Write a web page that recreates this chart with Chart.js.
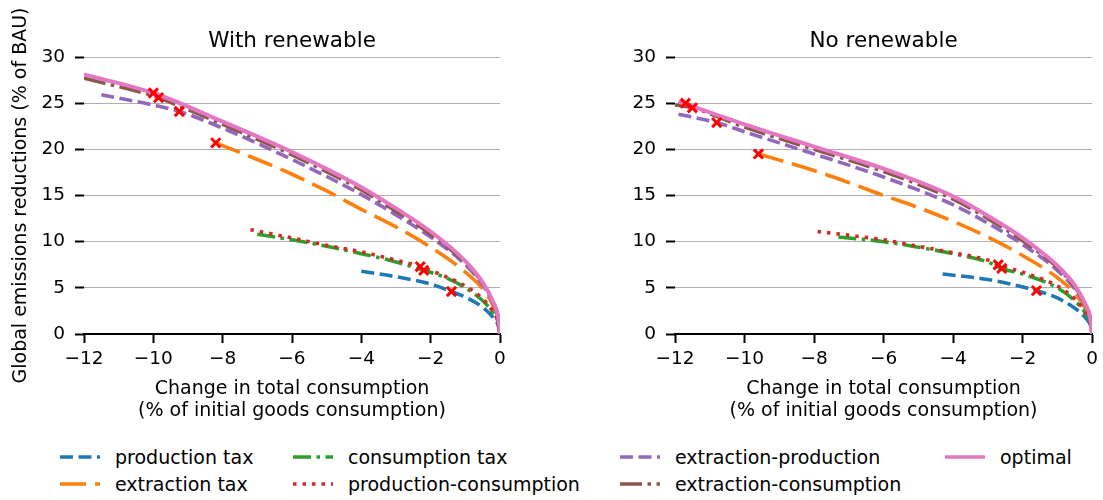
<!DOCTYPE html>
<html>
<head>
<meta charset="utf-8">
<script src="https://cdn.jsdelivr.net/npm/chart.js@4.4.1/dist/chart.umd.min.js"></script>
<style>
  body { margin: 0; background: #fff; font-family: "DejaVu Sans", sans-serif; }
  #wrap { position: relative; width: 1103px; height: 500px; }
  .panel { position: absolute; top: 0; height: 430px; }
  #legend { position: absolute; left: 0; top: 440px; width: 1103px; height: 60px; font-size: 19px; color: #000; }
  .item { position: absolute; height: 26px; line-height: 26px; white-space: nowrap; }
  .item svg { position: absolute; left: 0; top: 4px; }
  .item span { position: absolute; left: 55px; top: 0; }
</style>
</head>
<body>
<div id="wrap">
  <div class="panel" style="left:0; width:520px;"><canvas id="leftChart"></canvas></div>
  <div class="panel" style="left:560px; width:543px;"><canvas id="rightChart"></canvas></div>
  <div id="legend"></div>
</div>
<script>
// Series names (legend order) and styles
const seriesNames = ['production tax', 'extraction tax', 'consumption tax', 'production-consumption',
                     'extraction-production', 'extraction-consumption', 'optimal'];
const seriesColors = ['#1f77b4', '#ff7f0e', '#2ca02c', '#d62728', '#9467bd', '#8c564b', '#e377c2'];
const seriesDashes = [[13, 5.5], [26, 9], [18, 5.5, 3.5, 5.5], [3.5, 6], [13, 5.5], [22, 5.5, 3.5, 5.5], []];

// Axis ticks
const xTicks = [-12, -10, -8, -6, -4, -2, 0];
const yTicks = [0, 5, 10, 15, 20, 25, 30];

// ---- With renewable (left) ----
const lProdTaxX = [-4.0, -3.0, -2.0, -1.4, -1.0, -0.5, -0.2, -0.05, 0];
const lProdTaxY = [6.8, 6.2, 5.4, 4.6, 4.0, 2.9, 1.8, 0.9, 0];
const lExtTaxX = [-8.2, -7, -6, -5, -4, -3, -2, -1, -0.5, -0.2, -0.05, 0];
const lExtTaxY = [20.7, 18.9, 17.3, 15.5, 13.5, 11.6, 9.4, 6.7, 4.9, 3.1, 1.6, 0];
const lConsTaxX = [-7.0, -6, -5, -4, -3, -2.2, -1.5, -1, -0.5, -0.2, -0.05, 0];
const lConsTaxY = [10.8, 10.2, 9.5, 8.7, 7.8, 6.9, 6.0, 5.0, 3.6, 2.3, 1.2, 0];
const lProdConsX = [-7.2, -6, -5, -4, -3, -2.3, -1.5, -1, -0.5, -0.2, -0.05, 0];
const lProdConsY = [11.3, 10.4, 9.6, 8.9, 8.0, 7.3, 6.1, 5.2, 3.8, 2.4, 1.2, 0];
const lExtProdX = [-11.5, -10, -9.25, -8, -6, -4, -3, -2, -1, -0.5, -0.2, -0.05, 0];
const lExtProdY = [25.9, 24.8, 24.1, 22.3, 18.9, 15.1, 12.9, 10.5, 7.5, 5.3, 3.3, 1.7, 0];
const lExtConsX = [-12, -10, -9.85, -8, -6, -4, -3, -2, -1, -0.5, -0.2, -0.05, 0];
const lExtConsY = [27.7, 25.8, 25.6, 22.7, 19.4, 15.6, 13.3, 10.8, 7.7, 5.5, 3.4, 1.7, 0];
const lOptX = [-12, -10, -8, -6, -4, -3, -2, -1, -0.5, -0.2, -0.05, 0];
const lOptY = [28.1, 26.1, 23.0, 19.7, 15.9, 13.6, 11.1, 7.9, 5.6, 3.5, 1.8, 0];
const lMarkX = [-10.0, -9.85, -9.25, -8.2, -2.3, -2.2, -1.4];
const lMarkY = [26.1, 25.6, 24.1, 20.7, 7.3, 6.9, 4.6];

// ---- No renewable (right) ----
const rProdTaxX = [-4.3, -3.0, -2.0, -1.6, -1.0, -0.5, -0.2, -0.05, 0];
const rProdTaxY = [6.5, 5.9, 5.1, 4.7, 3.9, 2.8, 1.8, 0.9, 0];
const rExtTaxX = [-9.6, -8, -7, -6, -5, -4, -3, -2, -1, -0.5, -0.2, -0.05, 0];
const rExtTaxY = [19.5, 17.7, 16.4, 15.0, 13.7, 12.2, 10.5, 8.5, 6.1, 4.4, 2.8, 1.4, 0];
const rConsTaxX = [-7.3, -6, -5, -4, -3, -2.6, -2, -1, -0.5, -0.2, -0.05, 0];
const rConsTaxY = [10.5, 10.0, 9.4, 8.7, 7.8, 7.1, 6.5, 5.0, 3.6, 2.3, 1.2, 0];
const rProdConsX = [-7.9, -7, -6, -5, -4, -3, -2.7, -2, -1, -0.5, -0.2, -0.05, 0];
const rProdConsY = [11.1, 10.7, 10.2, 9.5, 8.8, 8.0, 7.5, 6.7, 5.2, 3.8, 2.4, 1.2, 0];
const rExtProdX = [-11.9, -10.8, -10, -8, -6, -4, -3, -2, -1, -0.5, -0.2, -0.05, 0];
const rExtProdY = [23.8, 22.9, 21.9, 19.5, 17.0, 14.0, 12.0, 9.7, 6.9, 4.9, 3.1, 1.6, 0];
const rExtConsX = [-12, -11.5, -10, -8, -6, -4, -3, -2, -1, -0.5, -0.2, -0.05, 0];
const rExtConsY = [24.8, 24.5, 22.4, 20.0, 17.6, 14.6, 12.5, 10.1, 7.2, 5.1, 3.2, 1.6, 0];
const rOptX = [-11.9, -10, -8, -6, -4, -3, -2, -1, -0.5, -0.2, -0.05, 0];
const rOptY = [25.2, 22.7, 20.3, 17.9, 14.9, 12.8, 10.4, 7.4, 5.3, 3.3, 1.7, 0];
const rMarkX = [-11.7, -11.5, -10.8, -9.6, -2.7, -2.6, -1.6];
const rMarkY = [25.0, 24.5, 22.9, 19.5, 7.5, 7.1, 4.7];

function toPoints(xs, ys) {
    return xs.map((x, i) => ({ x: x, y: ys[i] }));
}

function buildDatasets(seriesXs, seriesYs, markX, markY) {
    const sets = seriesXs.map((xs, i) => ({
        label: seriesNames[i],
        data: toPoints(xs, seriesYs[i]),
        borderColor: seriesColors[i],
        backgroundColor: seriesColors[i],
        borderDash: seriesDashes[i],
        borderWidth: i === 6 ? 4 : 3.6,
        pointRadius: 0,
        fill: false,
        cubicInterpolationMode: 'monotone',
        order: 10 - i
    }));
    sets.push({
        label: 'markers',
        data: toPoints(markX, markY),
        showLine: false,
        pointStyle: 'crossRot',
        pointRadius: 6.5,
        pointBorderWidth: 3,
        borderColor: '#ff0000',
        backgroundColor: '#ff0000',
        order: 0
    });
    return sets;
}

function tickLabel(v) {
    return String(v).replace('-', '\u2212');
}

// Panel title centred over the plot area (like matplotlib's ax.set_title)
const panelTitle = {
    id: 'panelTitle',
    afterDraw(chart, args, opts) {
        const ctx = chart.ctx;
        const area = chart.chartArea;
        ctx.save();
        ctx.fillStyle = '#000';
        ctx.font = '21.5px "DejaVu Sans"';
        ctx.textAlign = 'center';
        ctx.textBaseline = 'middle';
        ctx.fillText(opts.text, (area.left + area.right) / 2, 41);
        ctx.restore();
    }
};

function makeOptions(title, showYTitle, yWidth, padRight) {
    return {
        responsive: true,
        maintainAspectRatio: false,
        animation: false,
        layout: { padding: { left: 0, right: padRight, top: 57, bottom: 0 } },
        plugins: {
            legend: { display: false },
            tooltip: { enabled: false },
            title: { display: false },
            panelTitle: { text: title }
        },
        scales: {
            x: {
                type: 'linear',
                min: -12,
                max: 0,
                afterBuildTicks: function(scale) {
                    scale.ticks = xTicks.map(v => ({ value: v }));
                },
                afterFit: function(scale) { scale.height = 96; },
                border: { display: true, color: '#000', width: 2 },
                grid: {
                    drawOnChartArea: false,
                    drawTicks: true,
                    tickLength: 9,
                    tickWidth: 2,
                    tickColor: '#000'
                },
                ticks: {
                    color: '#000',
                    padding: 5,
                    maxRotation: 0,
                    font: { family: 'DejaVu Sans', size: 18.5 },
                    callback: tickLabel
                },
                title: {
                    display: true,
                    text: ['Change in total consumption', '(% of initial goods consumption)'],
                    color: '#000',
                    font: { family: 'DejaVu Sans', size: 19, lineHeight: 1.15 },
                    padding: { top: 0, bottom: 8 }
                }
            },
            y: {
                type: 'linear',
                min: 0,
                max: 30,
                afterBuildTicks: function(scale) {
                    scale.ticks = yTicks.map(v => ({ value: v }));
                },
                afterFit: function(scale) { scale.width = yWidth; },
                border: { display: false },
                grid: {
                    color: '#b0b0b0',
                    lineWidth: 1,
                    drawTicks: true,
                    tickLength: 9,
                    tickWidth: 2,
                    tickColor: '#000'
                },
                ticks: {
                    color: '#000',
                    padding: 10,
                    font: { family: 'DejaVu Sans', size: 18.5 }
                },
                title: {
                    display: showYTitle,
                    text: 'Global emissions reductions (% of BAU)',
                    color: '#000',
                    font: { family: 'DejaVu Sans', size: 19 },
                    padding: { top: 10, bottom: 0 }
                }
            }
        }
    };
}

new Chart(document.getElementById('leftChart'), {
    type: 'line',
    data: {
        datasets: buildDatasets(
            [lProdTaxX, lExtTaxX, lConsTaxX, lProdConsX, lExtProdX, lExtConsX, lOptX],
            [lProdTaxY, lExtTaxY, lConsTaxY, lProdConsY, lExtProdY, lExtConsY, lOptY],
            lMarkX, lMarkY)
    },
    options: makeOptions('With renewable', true, 84, 20),
    plugins: [panelTitle]
});

new Chart(document.getElementById('rightChart'), {
    type: 'line',
    data: {
        datasets: buildDatasets(
            [rProdTaxX, rExtTaxX, rConsTaxX, rProdConsX, rExtProdX, rExtConsX, rOptX],
            [rProdTaxY, rExtTaxY, rConsTaxY, rProdConsY, rExtProdY, rExtConsY, rOptY],
            rMarkX, rMarkY)
    },
    options: makeOptions('No renewable', false, 115, 9),
    plugins: [panelTitle]
});

// Legend (column-wise like the original, 4 columns x 2 rows)
const legendCols = [60, 293, 620, 945];
const legend = document.getElementById('legend');
seriesNames.forEach((name, i) => {
    const col = Math.floor(i / 2);
    const row = i % 2;
    const div = document.createElement('div');
    div.className = 'item';
    div.style.left = legendCols[col] + 'px';
    div.style.top = (4 + row * 27) + 'px';
    const dash = seriesDashes[i].length ? seriesDashes[i].join(' ') : 'none';
    div.innerHTML = '<svg width="42" height="18"><line x1="0" y1="9" x2="40" y2="9" stroke="' +
        seriesColors[i] + '" stroke-width="3.6" stroke-dasharray="' + dash + '"/></svg><span>' + name + '</span>';
    legend.appendChild(div);
});
</script>
</body>
</html>
